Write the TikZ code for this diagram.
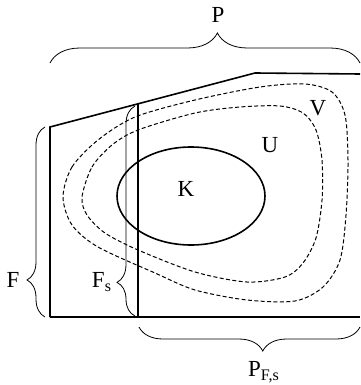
\documentclass[tikz,border=0pt]{standalone}
\usepackage{fontspec}
\setmainfont{Liberation Serif}
\usetikzlibrary{decorations.pathreplacing}

\begin{document}
\begin{tikzpicture}[x=0.5pt, y=-0.5pt, font=\fontsize{11.5}{13}\selectfont,
    edge/.style={line width=0.8pt},
    level/.style={dash pattern=on 2pt off 1.2pt, line width=0.5pt},
    brc/.style={decorate, line width=0.4pt}]
    \useasboundingbox (0,0) rectangle (360,385);

    % Corners of the domain P
    \coordinate (tl) at (50,127);
    \coordinate (tm) at (255,73);
    \coordinate (tr) at (360,74);
    \coordinate (bl) at (50,317);
    \coordinate (br) at (360,317);
    \coordinate (st) at (138,104);
    \coordinate (sb) at (138,317);

    % Outline of P and the cut at s
    \draw[edge] (bl) -- (tl) -- (tm) -- (tr);
    \draw[edge] (bl) -- (br);
    \draw[line width=0.6pt] (sb) -- (st);

    % Neighbourhoods V and U (dashed), compact set K
    \draw[level] plot[smooth cycle] coordinates {(63,197) (72,167) (98,140) (135,117) (195,100) (260,87) (305,84) (332,92) (345,115) (348,160) (346,215) (340,260) (323,287) (295,301) (247,300) (195,290) (155,273) (98,247) (72,225)};
    \draw[level] plot[smooth cycle] coordinates {(82,197) (92,167) (112,145) (138,130) (195,113) (240,107) (280,106) (303,113) (316,130) (322,160) (322,200) (316,238) (303,263) (285,277) (247,282) (195,272) (138,250) (105,233) (87,215)};
    \draw[edge] (191,196) ellipse [x radius=74, y radius=49];

    % Braces
    \draw[brc, decoration={brace, amplitude=15pt, aspect=0.54}] (50,63) -- (360,63);
    \draw[brc, decoration={brace, amplitude=9pt, aspect=0.195}] (45,317) -- (45,127);
    \draw[brc, decoration={brace, amplitude=9pt, aspect=0.16}] (135,316) -- (135,106);
    \draw[brc, decoration={brace, amplitude=12pt, aspect=0.56, mirror}] (139,327) -- (360,327);

    % Labels
    \node (lP) at (218,15) {P};
    \node (lV) at (318,108) {V};
    \node (lU) at (270,145) {U};
    \node (lK) at (186,189) {K};
    \node (lF) at (13,280) {F};
    \node (lFs) at (102,282) {F\textsubscript{s}};
    \node (lPFs) at (264,372) {P\textsubscript{F,s}};
\end{tikzpicture}
\end{document}
